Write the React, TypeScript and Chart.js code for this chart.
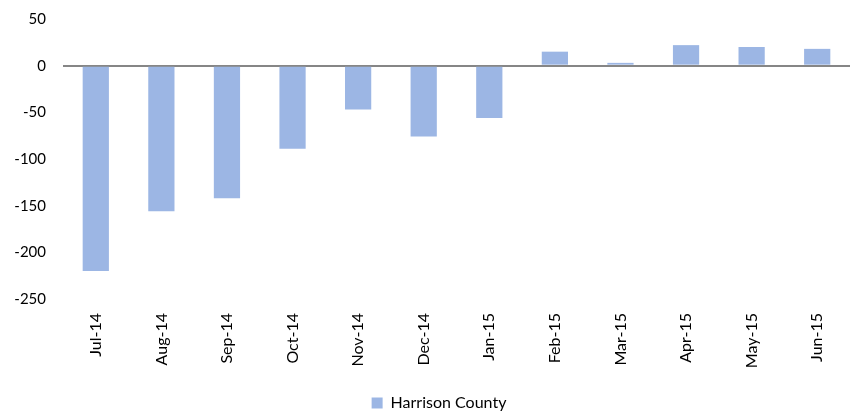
import React, { useEffect, useRef } from "react";
import { Chart, registerables } from "chart.js";

Chart.register(...registerables);

const categories = ["Jul-14", "Aug-14", "Sep-14", "Oct-14", "Nov-14", "Dec-14", "Jan-15", "Feb-15", "Mar-15", "Apr-15", "May-15", "Jun-15"];
const harrisonCounty = [-220, -156, -142, -89, -47, -76, -56, 15, 3, 22, 20, 18];
const yMin = -250;
const yMax = 50;
const yStep = 50;

const shiftLegend = {
  id: "shiftLegend",
  afterLayout(chart: any) {
    if (chart.legend) {
      chart.legend.left += 14;
      chart.legend.right += 14;
      chart.legend.top += 8;
      chart.legend.bottom += 8;
    }
  },
};

export default function App() {
  const ref = useRef<HTMLCanvasElement | null>(null);
  useEffect(() => {
    if (!ref.current) return;
    const chart = new Chart(ref.current, {
      type: "bar",
      data: {
        labels: categories,
        datasets: [
          {
            label: "Harrison County",
            data: harrisonCounty,
            backgroundColor: "#9CB6E4",
            borderWidth: 0,
            categoryPercentage: 1,
            barPercentage: 0.4,
          },
        ],
      },
      plugins: [shiftLegend],
      options: {
        animation: false,
        responsive: true,
        maintainAspectRatio: false,
        layout: { padding: { top: 19, right: 6, left: 0, bottom: 0 } },
        plugins: {
          tooltip: { enabled: false },
          legend: {
            position: "bottom",
            labels: {
              boxWidth: 11,
              boxHeight: 11,
              color: "#000",
              font: { family: "Lato", size: 16 },
              padding: 2,
            },
          },
        },
        scales: {
          x: {
            grid: { display: false, drawTicks: false },
            border: { display: false },
            afterFit: (s: any) => {
              s.height = 86;
              s.paddingTop = 0;
              s.paddingBottom = 0;
            },
            ticks: {
              color: "#000",
              font: { family: "Lato", size: 16 },
              minRotation: 90,
              maxRotation: 90,
              padding: 14,
            },
          },
          y: {
            min: yMin,
            max: yMax,
            afterFit: (s: any) => {
              s.width = 63;
              s.paddingTop = 0;
              s.paddingBottom = 0;
            },
            border: { display: false },
            grid: {
              drawTicks: false,
              color: (ctx: any) => (ctx.tick && ctx.tick.value === 0 ? "#868686" : "rgba(0,0,0,0)"),
              lineWidth: (ctx: any) => (ctx.tick && ctx.tick.value === 0 ? 2 : 0),
            },
            ticks: {
              stepSize: yStep,
              color: "#000",
              font: { family: "Lato", size: 15 },
              padding: 17,
            },
          },
        },
      },
    });
    return () => chart.destroy();
  }, []);
  return (
    <div style={{ position: "absolute", left: 0, top: 0, width: 856, height: 413 }}>
      <canvas ref={ref} />
    </div>
  );
}
